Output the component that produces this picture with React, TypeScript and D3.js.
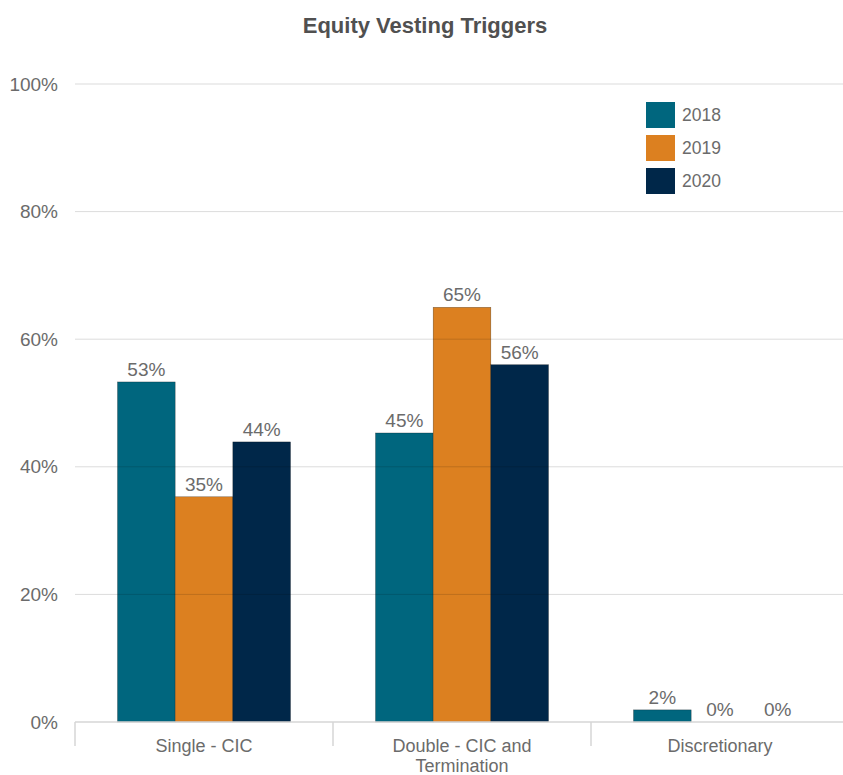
import { useEffect, useRef } from "react";
import * as d3 from "d3";

const categories = ["Single - CIC", "Double - CIC and Termination", "Discretionary"];
const years = ["2018", "2019", "2020"];
const values2018 = [53.3, 45.3, 1.9];
const values2019 = [35.3, 65.0, 0];
const values2020 = [43.9, 56.0, 0];
const yTicks = [0, 20, 40, 60, 80, 100];

const colors = ["#00667e", "#dc8020", "#002749"];
const font = "'Liberation Sans', Arial, sans-serif";

export default function App() {
  const ref = useRef<SVGSVGElement | null>(null);

  useEffect(() => {
    const width = 843;
    const height = 775;
    const margin = { top: 84, right: -6, bottom: 53, left: 75 };

    const svg = d3.select(ref.current);
    svg.selectAll("*").remove();

    const series = [values2018, values2019, values2020];

    const x = d3
      .scaleBand<string>()
      .domain(categories)
      .range([margin.left, width - margin.right]);

    const xInner = d3
      .scaleBand<string>()
      .domain(years)
      .range([0, x.bandwidth()])
      .paddingOuter(0.737);

    const y = d3
      .scaleLinear()
      .domain([0, 100])
      .range([height - margin.bottom, margin.top]);

    // title
    svg
      .append("text")
      .attr("x", 425)
      .attr("y", 33)
      .attr("text-anchor", "middle")
      .attr("font-family", font)
      .attr("font-size", 22)
      .attr("font-weight", 600)
      .attr("fill", "#505050")
      .text("Equity Vesting Triggers");

    // bars
    categories.forEach((c, ci) => {
      years.forEach((yr, si) => {
        const v = series[si][ci];
        const x0 = (x(c) ?? 0) + (xInner(yr) ?? 0);
        if (v > 0) {
          svg
            .append("rect")
            .attr("x", x0)
            .attr("y", y(v))
            .attr("width", xInner.bandwidth())
            .attr("height", y(0) - y(v))
            .attr("fill", colors[si])
            .attr("stroke", "rgba(0,0,0,0.5)")
            .attr("stroke-width", 0.5);
        }
        svg
          .append("text")
          .attr("x", x0 + xInner.bandwidth() / 2)
          .attr("y", y(v) - 6)
          .attr("text-anchor", "middle")
          .attr("font-family", font)
          .attr("font-size", 19)
          .attr("fill", "#6b6b6b")
          .text(`${Math.round(v)}%`);
      });
    });

    // gridlines on top
    const grid = svg.append("g");
    yTicks.forEach((t) => {
      grid
        .append("line")
        .attr("x1", margin.left)
        .attr("x2", width)
        .attr("y1", y(t))
        .attr("y2", y(t))
        .attr("stroke", t === 0 ? "#d6d6d6" : "rgba(0,0,0,0.14)")
        .attr("stroke-width", t === 0 ? 1.5 : 1);
      svg
        .append("text")
        .attr("x", 58)
        .attr("y", y(t))
        .attr("dy", "0.35em")
        .attr("text-anchor", "end")
        .attr("font-family", font)
        .attr("font-size", 19)
        .attr("fill", "#6b6b6b")
        .text(`${t}%`);
    });

    // category ticks
    categories.forEach((c) => {
      const x0 = x(c) ?? 0;
      svg
        .append("line")
        .attr("x1", x0)
        .attr("x2", x0)
        .attr("y1", y(0))
        .attr("y2", y(0) + 24)
        .attr("stroke", "#d6d6d6")
        .attr("stroke-width", 1.5);
    });

    // category labels (wrapped)
    const wrap: Record<string, string[]> = {
      "Double - CIC and Termination": ["Double - CIC and", "Termination"],
    };
    categories.forEach((c) => {
      const lines = wrap[c] ?? [c];
      const t = svg
        .append("text")
        .attr("text-anchor", "middle")
        .attr("font-family", font)
        .attr("font-size", 18)
        .attr("fill", "#6b6b6b");
      lines.forEach((l, i) => {
        t.append("tspan")
          .attr("x", (x(c) ?? 0) + x.bandwidth() / 2)
          .attr("y", 752 + i * 20)
          .text(l);
      });
    });

    // legend
    years.forEach((yr, i) => {
      const g = svg.append("g").attr("transform", `translate(646,${102 + i * 33})`);
      g.append("rect").attr("width", 29).attr("height", 26).attr("fill", colors[i]);
      g.append("text")
        .attr("x", 36)
        .attr("y", 13)
        .attr("dy", "0.35em")
        .attr("font-family", font)
        .attr("font-size", 17.5)
        .attr("fill", "#6b6b6b")
        .text(yr);
    });
  }, []);

  return (
    <svg
      ref={ref}
      width={843}
      height={775}
      style={{ position: "absolute", left: 0, top: 0, background: "#fff" }}
    />
  );
}
